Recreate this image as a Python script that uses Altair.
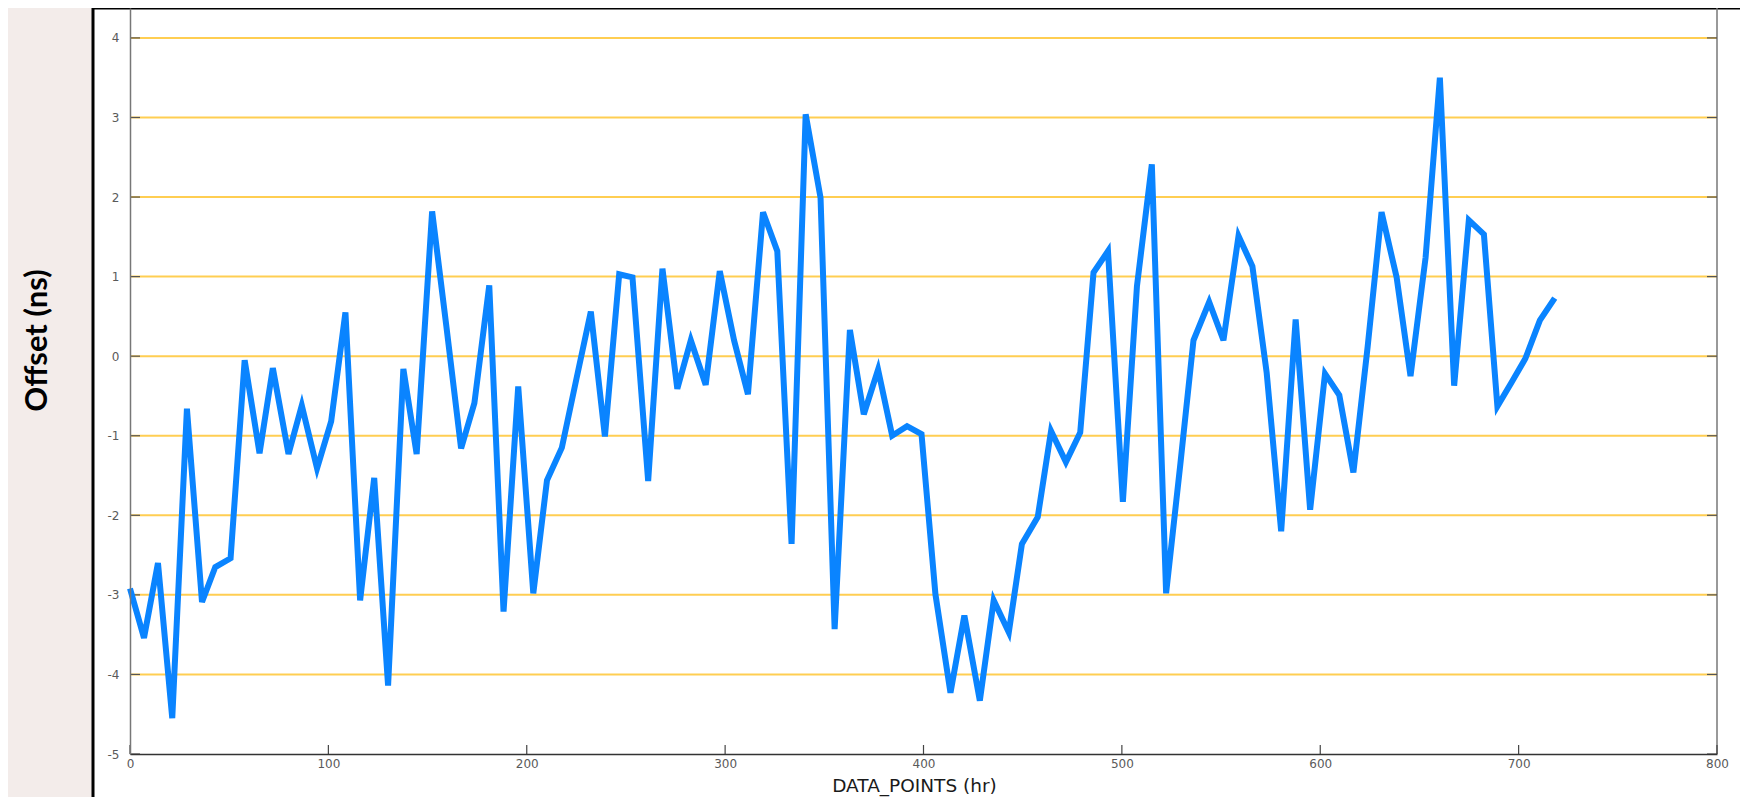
import altair as alt
import pandas as pd

# ---- data ----
hours = [0, 7.05, 14.1, 21.3, 28.7, 36.3, 43.0, 50.7, 57.8, 65.3,
         72.0, 79.9, 86.6, 94.3, 101.4, 108.6, 116.0, 123.1, 130.1, 137.8,
         144.5, 152.3, 159.5, 166.9, 173.6, 181.1, 188.3, 195.7, 203.3, 210.2,
         217.7, 225.0, 232.3, 239.4, 246.6, 253.3, 261.2, 268.4, 275.9, 282.7,
         290.2, 297.3, 304.5, 311.5, 319.1, 326.3, 333.5, 340.6, 348.1, 355.2,
         362.9, 369.9, 377.1, 384.2, 391.7, 399.0, 406.0, 413.6, 420.6, 428.4,
         435.4, 443.0, 449.6, 457.6, 464.3, 471.8, 479.0, 485.7, 493.0, 500.5,
         507.6, 515.1, 522.3, 529.5, 536.1, 544.0, 551.2, 558.8, 565.8, 573.0,
         580.3, 587.6, 594.9, 602.4, 609.6, 616.7, 623.9, 630.9, 638.5, 645.5,
         653.1, 660.3, 667.5, 674.9, 682.5, 689.3, 696.4, 703.4, 710.7, 718.2]
offset_ns = [-2.92, -3.54, -2.60, -4.55, -0.66, -3.09, -2.65, -2.54, -0.05, -1.22,
             -0.15, -1.23, -0.62, -1.41, -0.82, 0.55, -3.07, -1.53, -4.14, -0.16,
             -1.23, 1.82, 0.37, -1.16, -0.59, 0.89, -3.21, -0.38, -2.98, -1.56,
             -1.15, -0.29, 0.56, -1.01, 1.03, 0.99, -1.57, 1.10, -0.41, 0.20,
             -0.36, 1.07, 0.20, -0.48, 1.81, 1.32, -2.36, 3.04, 1.99, -3.43,
             0.33, -0.73, -0.17, -1.00, -0.88, -0.98, -2.99, -4.23, -3.26, -4.33,
             -3.07, -3.47, -2.36, -2.02, -0.94, -1.33, -0.96, 1.05, 1.32, -1.83,
             0.88, 2.41, -2.98, -1.35, 0.20, 0.68, 0.20, 1.51, 1.13, -0.21,
             -2.20, 0.46, -1.93, -0.22, -0.49, -1.46, 0.12, 1.81, 0.99, -0.25,
             1.24, 3.50, -0.37, 1.71, 1.53, -0.63, -0.33, -0.03, 0.45, 0.73]

x_ticks = [0, 100, 200, 300, 400, 500, 600, 700, 800]
y_ticks = [-5, -4, -3, -2, -1, 0, 1, 2, 3, 4]
grid_levels = [-4, -3, -2, -1, 0, 1, 2, 3, 4]
x_domain = [0, 800]
y_domain = [-5, 4.376]

W, H = 1587, 746

df = pd.DataFrame({"hour": hours, "offset": offset_ns})
ygrid = pd.DataFrame({"offset": grid_levels})
yt = pd.DataFrame({"offset": y_ticks})
xt = pd.DataFrame({"hour": x_ticks})
xr = pd.DataFrame({"hour": [x_domain[1]]})

xs = alt.Scale(domain=x_domain, nice=False, zero=False)
ys = alt.Scale(domain=y_domain, nice=False, zero=False)

x_axis = alt.Axis(
    values=x_ticks, grid=False, ticks=False, labelFlush=False, zindex=2,
    labelPadding=4, labelFont="DejaVu Sans", labelFontSize=12,
    labelColor="#5a5a5a", labelExpr="'' + datum.value",
    domainColor="#333333", domainWidth=1.5,
    title="DATA_POINTS (hr)", titleFont="DejaVu Sans", titleFontSize=18.5,
    titleFontWeight="normal", titleColor="#1a1a1a",
    titleX=784, titleY=37, titleAlign="center", titleBaseline="alphabetic",
)
y_axis = alt.Axis(
    values=y_ticks, grid=False, ticks=False, labelPadding=11, zindex=2,
    labelFont="DejaVu Sans", labelFontSize=12, labelColor="#5a5a5a",
    labelExpr="'' + datum.value",
    domainColor="#777777", domainWidth=1.5,
    title="Offset (ns)", titleFont="Lato", titleFontSize=31,
    titleFontWeight="bold", titleColor="#000000",
    titleAngle=270, titleX=-93, titleY=332,
    titleAlign="center", titleBaseline="middle",
)

X = alt.X("hour:Q", scale=xs, axis=x_axis, title="DATA_POINTS (hr)")
Y = alt.Y("offset:Q", scale=ys, axis=y_axis, title="Offset (ns)")

frame = alt.Chart(pd.DataFrame({"a": [0]})).mark_rect(
    fill="white", stroke="black", strokeWidth=3
).encode(x=alt.value(-37), x2=alt.value(1640), y=alt.value(0), y2=alt.value(900))

grid = alt.Chart(ygrid).mark_rule(color="#ffc93f", strokeWidth=2, opacity=0.9).encode(y=Y)

right_axis = alt.Chart(xr).mark_rule(color="#777777", strokeWidth=1.5).encode(x=X)

ytick_l = alt.Chart(yt).mark_rule(color="#555555", strokeWidth=1.2).encode(
    y=Y, x=alt.value(0), x2=alt.value(10)
)
ytick_r = alt.Chart(yt).mark_rule(color="#555555", strokeWidth=1.2).encode(
    y=Y, x=alt.value(W - 10), x2=alt.value(W)
)
xtick = alt.Chart(xt).mark_rule(color="#444444", strokeWidth=1.2).encode(
    x=X, y=alt.value(H), y2=alt.value(H - 9)
)

line = alt.Chart(df).mark_line(color="#0a84ff", strokeWidth=6).encode(x=X, y=Y)

chart = alt.layer(frame, grid, right_axis, ytick_l, ytick_r, xtick, line).properties(
    width=W, height=H,
    autosize=alt.AutoSizeParams(type="none"),
    padding={"left": 122, "top": 0, "right": 23, "bottom": 43},
    background="#f3ecea",
).configure_view(stroke=None, fill=None)

chart.save("out.html", embed_options={"renderer": "svg", "actions": False})
